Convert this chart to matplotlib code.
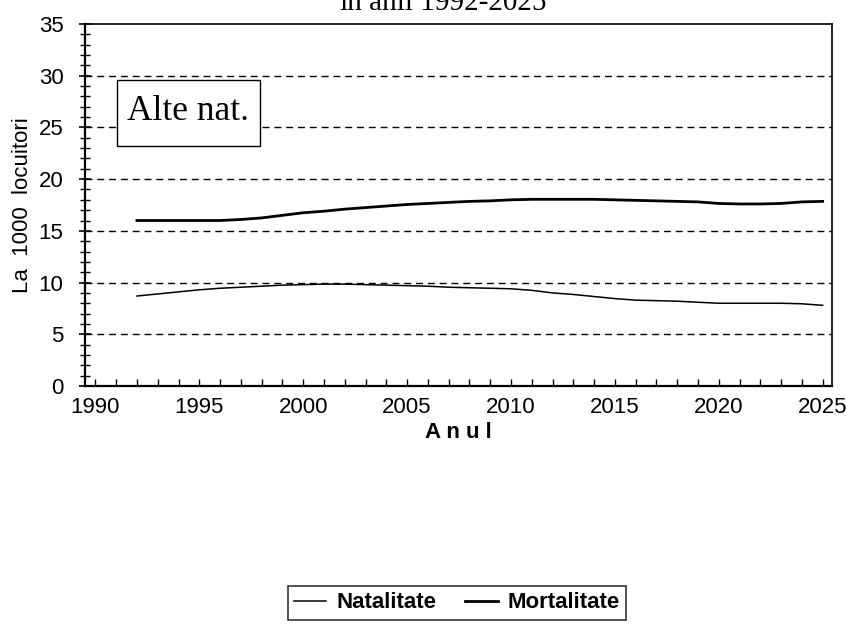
import matplotlib
matplotlib.use("Agg")
import matplotlib.pyplot as plt
from matplotlib.ticker import MultipleLocator
from matplotlib.patches import Rectangle

years = list(range(1992, 2026))
natalitate = [8.7, 8.9, 9.1, 9.3, 9.45, 9.55, 9.65, 9.75, 9.8, 9.85,
              9.85, 9.8, 9.75, 9.7, 9.65, 9.55, 9.5, 9.45, 9.4, 9.25,
              9.0, 8.85, 8.65, 8.45, 8.3, 8.25, 8.2, 8.1, 8.0, 8.0,
              8.0, 8.0, 7.95, 7.8]
mortalitate = [16.0, 16.0, 16.0, 16.0, 16.0, 16.1, 16.25, 16.5, 16.75, 16.9,
               17.1, 17.25, 17.4, 17.55, 17.65, 17.75, 17.85, 17.9, 18.0, 18.05,
               18.05, 18.05, 18.05, 18.0, 17.95, 17.9, 17.85, 17.8, 17.65, 17.6,
               17.6, 17.65, 17.8, 17.85]
x_ticks = [1990, 1995, 2000, 2005, 2010, 2015, 2020, 2025]
y_ticks = [0, 5, 10, 15, 20, 25, 30, 35]

W, H = 846, 625
fig = plt.figure(figsize=(W / 100, H / 100), dpi=100)
ax = fig.add_axes([85 / W, 1 - 386 / H, (832 - 85) / W, (386 - 24) / H])

ax.plot(years, natalitate, color="black", lw=1.1, label="Natalitate")
ax.plot(years, mortalitate, color="black", lw=2.0, label="Mortalitate")

ax.set_xlim(1989.5, 2025.45)
ax.set_ylim(0, 35)
ax.set_xticks(x_ticks)
ax.set_yticks(y_ticks)
ax.xaxis.set_minor_locator(MultipleLocator(1))
ax.yaxis.set_minor_locator(MultipleLocator(1))

for y in y_ticks[1:-1]:
    ax.axhline(y, color="black", lw=1.0, ls=(0, (5, 3.5)), zorder=0)

tick_font = dict(family="Liberation Sans", size=16)
ax.set_xticklabels([str(t) for t in x_ticks], fontdict=tick_font)
ax.set_yticklabels([str(t) for t in y_ticks], fontdict=tick_font)

ax.tick_params(axis="y", which="major", direction="inout", length=9, width=1.2, pad=11)
ax.tick_params(axis="y", which="minor", direction="inout", length=7, width=1.0)
ax.tick_params(axis="x", which="major", direction="in", length=5, width=1.0, pad=8)
ax.tick_params(axis="x", which="minor", direction="in", length=5, width=1.0)

for s in ax.spines.values():
    s.set_color("black")
ax.spines["left"].set_linewidth(1.6)
ax.spines["bottom"].set_linewidth(1.6)
ax.spines["top"].set_linewidth(1.2)
ax.spines["right"].set_linewidth(1.2)

ax.set_ylabel("La  1000  locuitori", family="Liberation Sans", fontsize=16, labelpad=4)
ax.set_xlabel("A n u l", family="Liberation Sans", fontsize=16, fontweight="bold", labelpad=3)

# annotation box
box = Rectangle((117 / W, 1 - 146 / H), (260 - 117) / W, (146 - 80) / H,
                transform=fig.transFigure, fc="white", ec="black", lw=1.0, zorder=5)
fig.add_artist(box)
fig.text(188 / W, 1 - 112 / H, "Alte nat.", family="Liberation Serif", fontsize=25.5,
         va="center", ha="center", zorder=6)

fig.text(443 / W, 1 - 10 / H, "în anii 1992-2025", family="Liberation Serif", fontsize=21,
         ha="center", va="baseline")

leg = fig.legend(loc="center", bbox_to_anchor=(457 / W, 1 - 603 / H), ncol=2,
                 frameon=True, fancybox=False, edgecolor="black", handlelength=1.45,
                 columnspacing=1.3, handletextpad=0.45, borderpad=0.3,
                 prop=dict(family="Liberation Sans", size=16, weight="bold"))
leg.get_frame().set_linewidth(1.2)

fig.savefig("out.png", dpi=100)
